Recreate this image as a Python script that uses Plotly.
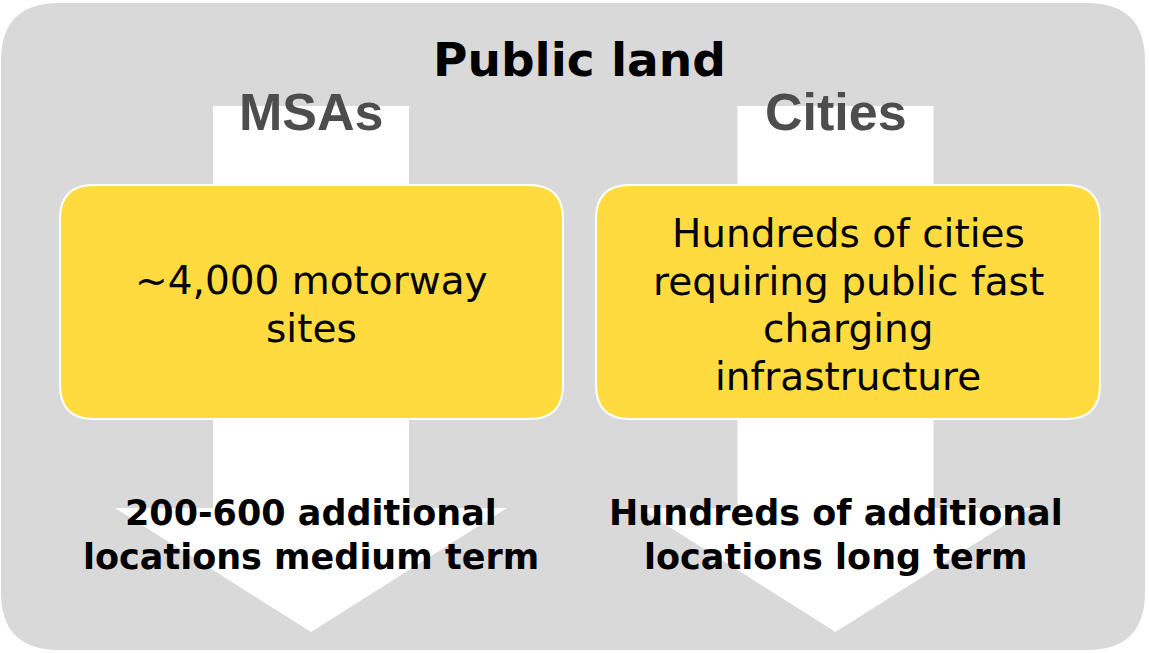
import plotly.graph_objects as go

# ---- content ----
title_text = "Public land"
column_labels = ["MSAs", "Cities"]
box_lines = [
    ["~4,000 motorway", "sites"],
    ["Hundreds of cities", "requiring public fast", "charging", "infrastructure"],
]
outcome_lines = [
    ["200-600 additional", "locations medium term"],
    ["Hundreds of additional", "locations long term"],
]

W, H = 1149, 653
GREY = "#D9D9D9"
YELLOW = "#FFDB40"
INK = "#000000"
HEAD_INK = "#4D4D4D"
FONT_BODY = "DejaVu Sans, sans-serif"
FONT_HEAD = "Liberation Sans, Arial, sans-serif"


def rounded_rect(x0, y0, x1, y1, r):
    return (
        f"M {x0 + r},{y0} L {x1 - r},{y0} Q {x1},{y0} {x1},{y0 + r} "
        f"L {x1},{y1 - r} Q {x1},{y1} {x1 - r},{y1} "
        f"L {x0 + r},{y1} Q {x0},{y1} {x0},{y1 - r} "
        f"L {x0},{y0 + r} Q {x0},{y0} {x0 + r},{y0} Z"
    )


def arrow(cx, shaft_half, head_half, top, shoulder, tip):
    return (
        f"M {cx - shaft_half},{top} L {cx + shaft_half},{top} "
        f"L {cx + shaft_half},{shoulder} L {cx + head_half},{shoulder} "
        f"L {cx},{tip} L {cx - head_half},{shoulder} "
        f"L {cx - shaft_half},{shoulder} Z"
    )


fig = go.Figure()

shapes = [
    dict(type="path", path=rounded_rect(1, 3, 1145, 650, 58),
         fillcolor=GREY, line=dict(width=0), layer="below"),
]

arrow_cx = [311, 835.5]
box_x = [(60, 563), (596, 1100)]
for cx, (bx0, bx1) in zip(arrow_cx, box_x):
    shapes.append(dict(type="path", path=arrow(cx, 98, 196, 106, 508, 632),
                       fillcolor="white", line=dict(width=0), layer="below"))
    shapes.append(dict(type="path", path=rounded_rect(bx0, 185, bx1, 419, 34),
                       fillcolor=YELLOW, line=dict(color="white", width=2),
                       layer="below"))

fig.update_layout(shapes=shapes)

ann = [
    dict(x=579, y=59, text=title_text,
         font=dict(family=FONT_BODY, size=47, color=INK, weight="bold")),
]
for cx, label in zip(arrow_cx, column_labels):
    ann.append(dict(x=cx, y=112, text=label,
                    font=dict(family=FONT_HEAD, size=52, color=HEAD_INK, weight="bold")))

# body text inside the yellow boxes, one annotation per line (47.5px leading)
box_cx = [311.5, 848]
box_first_mid = [280.5, 233.5]
for cx, y0, lines in zip(box_cx, box_first_mid, box_lines):
    for i, t in enumerate(lines):
        ann.append(dict(x=cx, y=y0 + 47.5 * i, text=t,
                        font=dict(family=FONT_BODY, size=39, color=INK)))

# outcome text over the arrow heads (44px leading)
for cx, lines in zip(arrow_cx, outcome_lines):
    for i, t in enumerate(lines):
        ann.append(dict(x=cx, y=512.5 + 44 * i, text=t,
                        font=dict(family=FONT_BODY, size=35, color=INK, weight="bold")))

for a in ann:
    a.update(xref="x", yref="y", showarrow=False, xanchor="center",
             yanchor="middle", align="center")

fig.update_layout(
    annotations=ann,
    width=W, height=H,
    margin=dict(l=0, r=0, t=0, b=0),
    paper_bgcolor="white", plot_bgcolor="white",
    xaxis=dict(range=[0, W], visible=False, fixedrange=True),
    yaxis=dict(range=[H, 0], visible=False, fixedrange=True),
    showlegend=False,
)

fig.write_html(
    "out.html",
    config={"displayModeBar": False},
    post_script="document.body.style.margin='0';document.body.style.overflow='hidden';",
)
